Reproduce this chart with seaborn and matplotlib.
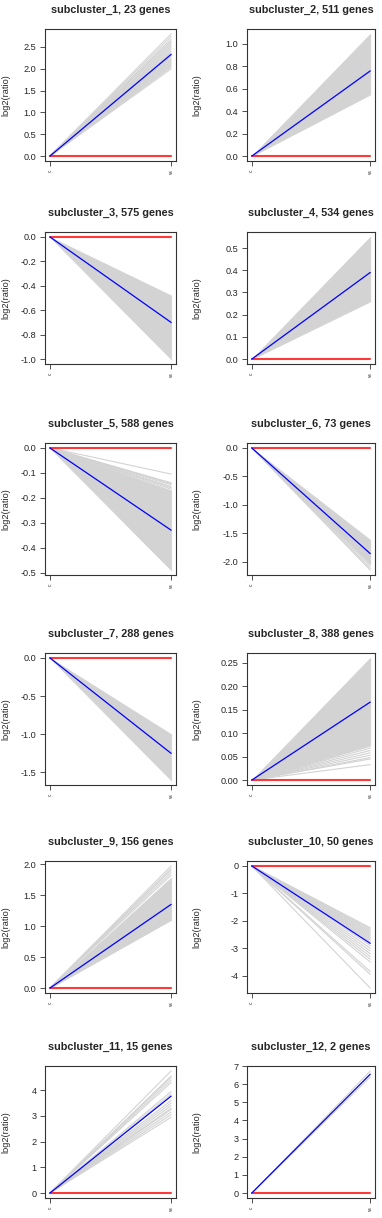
import numpy as np
import pandas as pd
import matplotlib
matplotlib.use("Agg")
import matplotlib.pyplot as plt
import seaborn as sns

sns.set_style("white")
plt.rcParams['font.family'] = ['Liberation Sans', 'DejaVu Sans']

conditions = ["c", "vs"]
cluster_ids = [1, 2, 3, 4, 5, 6, 7, 8, 9, 10, 11, 12]
gene_counts = [23, 511, 575, 534, 588, 73, 288, 388, 156, 50, 15, 2]

# mean log2(ratio) at "vs" (blue line)
mean_vs = [2.33, 0.76, -0.70, 0.39, -0.33, -1.86, -1.25, 0.166, 1.35, -2.82, 3.77, 6.55]

# dense envelopes of gene lines at "vs" (solid grey wedge), None when lines are sparse
band_lo = [None, 0.55, -1.00, 0.26, -0.49, -2.05, -1.60, 0.075, 1.10, None, None, None]
band_hi = [None, 1.09, -0.48, 0.55, -0.17, -1.62, -1.00, 0.26, 1.78, None, None, None]

# individually visible gene lines at "vs"
gene_ends = [
    [2.00, 2.04, 2.07, 2.10, 2.13, 2.16, 2.19, 2.22, 2.25, 2.28, 2.31, 2.34,
     2.37, 2.40, 2.44, 2.48, 2.52, 2.56, 2.60, 2.64, 2.68, 2.74, 2.80],
    [],
    [],
    [],
    [-0.105, -0.14, -0.143, -0.148, -0.155, -0.16, -0.165],
    [-2.08, -2.12, -2.15],
    [],
    [0.033, 0.045, 0.048, 0.053, 0.058, 0.063, 0.068, 0.072],
    [1.82, 1.86, 1.90, 1.93, 1.97],
    [-2.25, -2.30, -2.35, -2.40, -2.45, -2.50, -2.55, -2.60, -2.65, -2.70, -2.75,
     -2.90, -3.00, -3.10, -3.20, -3.30, -3.40, -3.50, -3.85, -3.95, -4.45],
    [2.95, 3.05, 3.15, 3.25, 3.30, 3.40, 3.50, 3.60, 3.85, 3.95, 4.30, 4.40,
     4.50, 4.55, 4.75],
    [6.40, 6.72],
]

ytick_vals = [
    [0.0, 0.5, 1.0, 1.5, 2.0, 2.5],
    [0.0, 0.2, 0.4, 0.6, 0.8, 1.0],
    [0.0, -0.2, -0.4, -0.6, -0.8, -1.0],
    [0.0, 0.1, 0.2, 0.3, 0.4, 0.5],
    [0.0, -0.1, -0.2, -0.3, -0.4, -0.5],
    [0.0, -0.5, -1.0, -1.5, -2.0],
    [0.0, -0.5, -1.0, -1.5],
    [0.00, 0.05, 0.10, 0.15, 0.20, 0.25],
    [0.0, 0.5, 1.0, 1.5, 2.0],
    [0, -1, -2, -3, -4],
    [0, 1, 2, 3, 4],
    [0, 1, 2, 3, 4, 5, 6, 7],
]
ytick_fmt = ["%.1f"] * 7 + ["%.2f", "%.1f", "%d", "%d", "%d"]

W, H = 382, 1218
fig = plt.figure(figsize=(W / 100, H / 100), dpi=100)

row_tops = [29, 232, 443, 653, 861, 1066]
col_lefts = [45, 247]
col_widths = [131, 128]
box_h = 132

for i, cid in enumerate(cluster_ids):
    r, c = divmod(i, 2)
    left, top = col_lefts[c], row_tops[r]
    ax = fig.add_axes([left / W, 1 - (top + box_h) / H, col_widths[c] / W, box_h / H])

    rows = []
    for g, v in enumerate(gene_ends[i]):
        rows.append({"gene": g, "x": 1, "y": 0.0})
        rows.append({"gene": g, "x": 2, "y": v})
    all_vals = [0.0] + list(gene_ends[i])
    if band_lo[i] is not None:
        ax.fill_between([1, 2], [0, band_lo[i]], [0, band_hi[i]],
                        color="#D3D3D3", lw=0.6, edgecolor="#D3D3D3")
        all_vals += [band_lo[i], band_hi[i]]
    if rows:
        df = pd.DataFrame(rows)
        sns.lineplot(data=df, x="x", y="y", units="gene", estimator=None,
                     color="#D3D3D3", lw=0.8, ax=ax, legend=False)

    sns.lineplot(x=[1, 2], y=[0.0, 0.0], color="#FF3838", lw=1.5, ax=ax)
    sns.lineplot(x=[1, 2], y=[0.0, mean_vs[i]], color="#0000FF", lw=0.9, ax=ax)

    lo, hi = min(all_vals), max(all_vals)
    pad = (hi - lo) * 0.04
    ax.set_ylim(lo - pad, hi + pad)
    ax.set_xlim(1 - 0.04, 2 + 0.04)

    ax.set_yticks(ytick_vals[i])
    ax.set_yticklabels([ytick_fmt[i] % v for v in ytick_vals[i]], fontsize=6.6)
    ax.set_xticks([1, 2])
    ax.set_xticklabels(conditions, fontsize=3.4, rotation=90)
    ax.tick_params(axis="both", direction="out", length=3.6, width=0.6,
                   color="#333333", pad=2.5, left=True, bottom=True)
    for s in ax.spines.values():
        s.set_linewidth(0.8)
        s.set_color("#333333")
    ax.set_xlabel("")
    ax.set_ylabel("log2(ratio)", fontsize=6.6)
    ax.yaxis.set_label_coords((10 - left) / col_widths[c] if c == 0 else (10 + 191 - left) / col_widths[c], 0.5)
    ax.set_title("subcluster_%d, %d genes" % (cid, gene_counts[i]),
                 fontsize=7.8, fontweight="bold", pad=11.5)

fig.savefig("out.png", dpi=100)
